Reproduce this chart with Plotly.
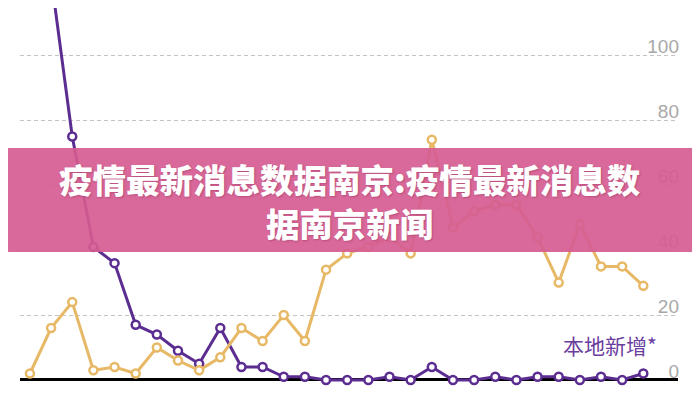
import plotly.graph_objects as go

# data (30 days)
days = list(range(30))
local_new = [150, 124, 75, 41, 36, 17, 14, 9, 5, 16, 4, 4, 1, 1, 0,
             0, 0, 1, 0, 4, 0, 0, 1, 0, 1, 1, 0, 1, 0, 2]
other = [2, 16, 24, 3, 4, 2, 10, 6, 3, 7, 16, 12, 20, 12, 34,
         39, 41, 44, 39, 74, 47, 52, 54, 54, 44, 30, 48, 35, 35, 29]
tick_idx = [0, 4, 8, 12, 16, 20, 24, 29]
tick_text = ['7/21', '7/25', '7/29', '8/2', '8/6', '8/10', '8/14', '8/19']
y_ticks = [0, 20, 40, 60, 80, 100]

purple = '#5b2d91'
gold = '#e7b865'

fig = go.Figure()

fig.add_trace(go.Scatter(x=days, y=local_new, mode='lines+markers',
                         line=dict(color=purple, width=3),
                         marker=dict(size=8, color='white',
                                     line=dict(color=purple, width=2.5)),
                         showlegend=False))
fig.add_trace(go.Scatter(x=days, y=other, mode='lines+markers',
                         line=dict(color=gold, width=3),
                         marker=dict(size=8, color='white',
                                     line=dict(color=gold, width=2.5)),
                         showlegend=False))

# the page body adds an 8px offset, margins/range compensate for it
fig.update_layout(
    width=700, height=400,
    margin=dict(l=12, r=30, t=0, b=16),
    plot_bgcolor='white', paper_bgcolor='white',
    xaxis=dict(range=[-0.47, 30.64], tickvals=tick_idx, ticktext=tick_text,
               showgrid=False, zeroline=False, showline=False, ticks='',
               ticklabelstandoff=3,
               tickfont=dict(family='Liberation Sans', size=15, color='#888'),
               automargin=False),
    yaxis=dict(range=[-3.7, 114.6], tickvals=y_ticks, side='right',
               ticklabelposition='inside', ticks='', ticklabelshift=-9,
               ticklabelstandoff=-4,
               showgrid=True, gridcolor='#c4c4c4', gridwidth=1,
               griddash='4px,3px',
               zeroline=True, zerolinecolor='black', zerolinewidth=3,
               tickfont=dict(family='Liberation Sans', size=19, color='#a8a8a8'),
               automargin=False),
)

fig.add_annotation(text='本地新增*', xref='paper', yref='y',
                   x=0.971, y=10.8, xanchor='right', yanchor='middle',
                   showarrow=False,
                   font=dict(family='Noto Sans CJK SC', size=21, color='#6a3d9e'))

# pink banner laid over the chart
fig.add_shape(type='rect', xref='paper', yref='paper',
              x0=-0.031, x1=1.034, y0=0.3646, y1=0.6354,
              fillcolor='rgba(214, 92, 145, 0.92)', line=dict(width=0),
              layer='above')
fig.add_annotation(text='疫情最新消息数据南京:疫情最新消息数<br>据南京新闻',
                   xref='paper', yref='paper', x=0.5015, y=0.5,
                   xanchor='center', yanchor='middle', align='center',
                   showarrow=False,
                   font=dict(family='Noto Sans CJK SC', size=33.5, color='white',
                             weight=900, shadow='1px 1px 2px rgba(120,30,70,0.35)'))

fig.write_html('out.html')
